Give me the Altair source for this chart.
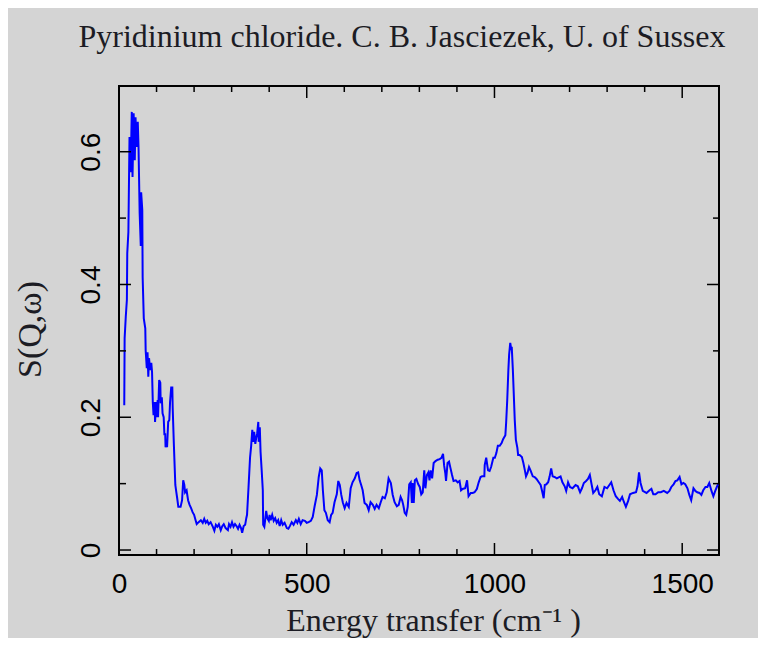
import altair as alt
import pandas as pd

# ---- data ----
energy = [
    14, 15, 18, 21, 22, 25, 28, 31, 34, 36, 39, 42, 44, 47, 50, 52, 55, 58, 59, 62,
    63, 66, 70, 71, 74, 76, 78, 80, 83, 86, 88, 90, 92, 95, 96, 99, 100, 103, 104, 107,
    110, 111, 114, 116, 119, 121, 123, 124, 127, 128, 131, 134, 136, 139, 142, 143, 146, 150, 152, 155,
    158, 160, 164, 168, 171, 174, 176, 180, 184, 188, 192, 196, 200, 204, 207, 212, 218, 223, 227, 231,
    235, 239, 244, 250, 254, 258, 262, 266, 271, 275, 279, 284, 290, 293, 297, 301, 305, 309, 313, 317,
    321, 325, 328, 332, 336, 339, 341, 345, 349, 352, 355, 357, 360, 363, 365, 368, 371, 372, 375, 377,
    380, 383, 384, 387, 389, 392, 395, 399, 401, 404, 408, 412, 416, 420, 424, 428, 432, 436, 441, 447,
    451, 455, 460, 465, 471, 475, 479, 484, 489, 495, 500, 505, 511, 516, 521, 527, 532, 536, 540, 543,
    547, 551, 556, 561, 565, 569, 574, 580, 584, 588, 592, 596, 601, 606, 612, 617, 622, 628, 633, 637,
    641, 645, 649, 654, 660, 665, 670, 676, 681, 686, 692, 697, 702, 708, 713, 718, 724, 729, 734, 740,
    745, 750, 754, 757, 761, 765, 769, 773, 777, 780, 782, 785, 788, 792, 797, 801, 805, 809, 813, 816,
    820, 824, 827, 830, 834, 838, 843, 849, 854, 859, 863, 866, 869, 871, 875, 879, 883, 887, 891, 897,
    902, 907, 911, 915, 922, 927, 931, 937, 942, 947, 953, 958, 963, 967, 973, 974, 978, 981, 983, 987,
    991, 997, 1001, 1005, 1009, 1014, 1019, 1023, 1029, 1031, 1034, 1037, 1039, 1042, 1045, 1046, 1049, 1051, 1054, 1057,
    1061, 1063, 1067, 1073, 1077, 1081, 1084, 1088, 1092, 1096, 1102, 1107, 1112, 1118, 1123, 1128, 1131, 1134, 1138, 1143,
    1147, 1151, 1155, 1160, 1166, 1176, 1181, 1187, 1191, 1196, 1201, 1208, 1216, 1222, 1228, 1233, 1238, 1244, 1249, 1254,
    1259, 1263, 1269, 1274, 1279, 1286, 1293, 1300, 1306, 1311, 1317, 1323, 1329, 1334, 1340, 1345, 1350, 1356, 1361, 1369,
    1377, 1381, 1385, 1389, 1395, 1405, 1413, 1418, 1423, 1429, 1436, 1443, 1451, 1460, 1466, 1471, 1477, 1482, 1487, 1493,
    1498, 1503, 1508, 1514, 1519, 1524, 1530, 1535, 1540, 1546, 1551, 1556, 1562, 1567, 1572, 1578, 1583, 1588, 1593, 1596,
]
s_q_w = [
    0.218, 0.319, 0.351, 0.377, 0.447, 0.479, 0.622, 0.569, 0.660, 0.562, 0.658, 0.587, 0.652, 0.607, 0.645, 0.607, 0.508, 0.458, 0.539, 0.512,
    0.411, 0.349, 0.334, 0.301, 0.274, 0.298, 0.261, 0.289, 0.271, 0.282, 0.268, 0.223, 0.203, 0.223, 0.193, 0.223, 0.200, 0.226, 0.200, 0.256,
    0.252, 0.221, 0.230, 0.206, 0.200, 0.173, 0.176, 0.155, 0.161, 0.155, 0.193, 0.196, 0.223, 0.245, 0.245, 0.214, 0.161, 0.098, 0.090, 0.078,
    0.065, 0.065, 0.065, 0.075, 0.105, 0.098, 0.087, 0.090, 0.075, 0.068, 0.063, 0.057, 0.053, 0.045, 0.039, 0.042, 0.045, 0.041, 0.047, 0.041,
    0.044, 0.039, 0.042, 0.035, 0.029, 0.038, 0.035, 0.039, 0.030, 0.036, 0.039, 0.033, 0.030, 0.039, 0.035, 0.042, 0.035, 0.039, 0.036, 0.032,
    0.038, 0.033, 0.026, 0.036, 0.038, 0.048, 0.053, 0.095, 0.139, 0.157, 0.181, 0.163, 0.178, 0.160, 0.167, 0.176, 0.193, 0.163, 0.185, 0.148,
    0.120, 0.090, 0.038, 0.035, 0.044, 0.059, 0.048, 0.044, 0.053, 0.045, 0.053, 0.044, 0.048, 0.041, 0.045, 0.036, 0.045, 0.038, 0.041, 0.033,
    0.032, 0.036, 0.042, 0.038, 0.045, 0.041, 0.047, 0.039, 0.045, 0.044, 0.041, 0.042, 0.044, 0.050, 0.066, 0.083, 0.110, 0.123, 0.120, 0.090,
    0.060, 0.056, 0.045, 0.042, 0.053, 0.056, 0.072, 0.084, 0.104, 0.098, 0.083, 0.072, 0.063, 0.071, 0.065, 0.093, 0.102, 0.108, 0.116, 0.117,
    0.105, 0.098, 0.090, 0.071, 0.068, 0.060, 0.072, 0.068, 0.062, 0.068, 0.063, 0.072, 0.080, 0.078, 0.087, 0.108, 0.101, 0.083, 0.072, 0.066,
    0.068, 0.080, 0.075, 0.068, 0.056, 0.053, 0.065, 0.099, 0.102, 0.071, 0.101, 0.071, 0.105, 0.107, 0.099, 0.095, 0.084, 0.087, 0.120, 0.093,
    0.113, 0.117, 0.105, 0.120, 0.108, 0.131, 0.134, 0.136, 0.137, 0.139, 0.145, 0.127, 0.116, 0.104, 0.131, 0.133, 0.123, 0.113, 0.104, 0.105,
    0.102, 0.104, 0.090, 0.092, 0.093, 0.105, 0.081, 0.086, 0.086, 0.087, 0.092, 0.102, 0.110, 0.111, 0.111, 0.128, 0.139, 0.127, 0.120, 0.119,
    0.125, 0.139, 0.139, 0.146, 0.157, 0.157, 0.161, 0.167, 0.173, 0.191, 0.226, 0.271, 0.294, 0.312, 0.301, 0.306, 0.271, 0.241, 0.196, 0.166,
    0.154, 0.143, 0.143, 0.140, 0.131, 0.120, 0.111, 0.116, 0.125, 0.120, 0.111, 0.110, 0.107, 0.102, 0.098, 0.086, 0.078, 0.098, 0.099, 0.102,
    0.111, 0.123, 0.111, 0.110, 0.108, 0.111, 0.102, 0.096, 0.089, 0.102, 0.095, 0.093, 0.098, 0.096, 0.087, 0.093, 0.101, 0.104, 0.107, 0.113,
    0.098, 0.086, 0.090, 0.095, 0.084, 0.081, 0.095, 0.093, 0.098, 0.102, 0.090, 0.081, 0.077, 0.074, 0.080, 0.072, 0.065, 0.074, 0.084, 0.086,
    0.087, 0.096, 0.117, 0.101, 0.089, 0.086, 0.090, 0.092, 0.084, 0.084, 0.087, 0.087, 0.089, 0.086, 0.089, 0.095, 0.099, 0.104, 0.105, 0.110,
    0.099, 0.101, 0.099, 0.093, 0.083, 0.075, 0.093, 0.089, 0.087, 0.086, 0.083, 0.090, 0.095, 0.095, 0.101, 0.089, 0.081, 0.089, 0.096, 0.099,
]

x_major = [0, 500, 1000, 1500]
x_minor = [100, 200, 300, 400, 600, 700, 800, 900, 1100, 1200, 1300, 1400]
y_major = [0, 0.2, 0.4, 0.6]
y_minor = [0.1, 0.3, 0.5]

title_text = "Pyridinium chloride. C. B. Jasciezek, U. of Sussex"
x_title = "Energy transfer (cm\u207b\u00b9 )"
y_title = "S(Q,\u03c9)"

# ---- layout ----
W, H = 600, 469
SERIF = "Liberation Serif"
SANS = "Liberation Sans"
TXT = "#1c1c24"

xscale = alt.Scale(domain=[0, 1598], nice=False, zero=False)
yscale = alt.Scale(domain=[-0.0075, 0.699], nice=False, zero=False)

df = pd.DataFrame({"E": energy, "S": s_q_w, "i": list(range(len(energy)))})

line = alt.Chart(df).mark_line(color="#0000ff", strokeWidth=2).encode(
    x=alt.X("E:Q", scale=xscale,
            axis=alt.Axis(values=x_major, format="d", title=x_title,
                          labelPadding=15, labelFlush=False, labelOverlap=False,
                          titleX=314, titleY=75, titleAlign="center",
                          titleBaseline="alphabetic", titleAngle=0)),
    y=alt.Y("S:Q", scale=yscale,
            axis=alt.Axis(values=y_major, format="~g", title=y_title,
                          labelAngle=270, labelAlign="center", labelBaseline="alphabetic",
                          labelPadding=20, labelFlush=False, labelOverlap=False,
                          titleX=-79, titleY=243, titleAngle=270, titleAlign="center",
                          titleBaseline="alphabetic", titleFontSize=34)),
    order="i:Q",
)

title_mark = alt.Chart(pd.DataFrame({"t": [title_text]})).mark_text(
    font=SERIF, fontSize=32, color=TXT, align="center", baseline="alphabetic"
).encode(text="t:N", x=alt.value(402 - 119), y=alt.value(47 - 86))

xmaj = pd.DataFrame({"v": x_major})
xmin = pd.DataFrame({"v": x_minor})
ymaj = pd.DataFrame({"v": y_major})
ymin = pd.DataFrame({"v": y_minor})


def xt(d, y0, y1):
    return alt.Chart(d).mark_rule(color="black", strokeWidth=1.5).encode(
        x=alt.X("v:Q", scale=xscale), y=alt.value(y0), y2=alt.value(y1))


def yt(d, x0, x1):
    return alt.Chart(d).mark_rule(color="black", strokeWidth=1.5).encode(
        y=alt.Y("v:Q", scale=yscale), x=alt.value(x0), x2=alt.value(x1))


ticks = [
    xt(xmaj, H, H - 12), xt(xmin, H, H - 6),
    xt(xmaj, 0, 12), xt(xmin, 0, 6),
    yt(ymaj, 0, 12), yt(ymin, 0, 7),
    yt(ymaj, W, W - 12), yt(ymin, W, W - 6),
]

chart = alt.layer(line, title_mark, *ticks).properties(
    width=W, height=H,
    autosize=alt.AutoSizeParams(type="none"),
    padding={"left": 111, "top": 78, "right": 39, "bottom": 83},
    background="#d4d4d4",
).configure_view(
    stroke="black", strokeWidth=2, fill=None
).configure_axis(
    ticks=False, tickSize=0, domain=False, grid=False,
    labelFont=SANS, labelFontSize=28, labelColor="black",
    titleFont=SERIF, titleFontSize=32, titleFontWeight="normal", titleColor=TXT,
)

chart.save("out.html", embed_options={"renderer": "svg", "actions": False})
